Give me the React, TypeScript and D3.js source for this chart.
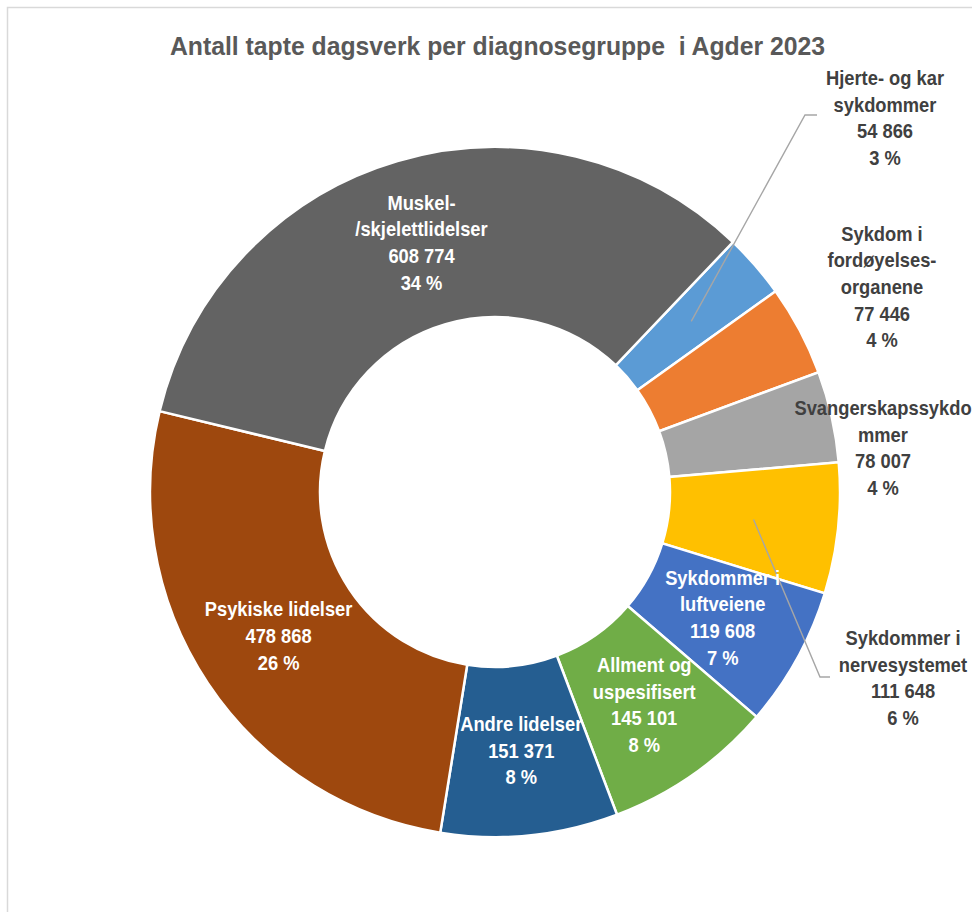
import React from "react";
import * as d3 from "d3";

const categories = [
  "Hjerte- og kar sykdommer",
  "Sykdom i fordøyelsesorganene",
  "Svangerskapssykdommer",
  "Sykdommer i nervesystemet",
  "Sykdommer i luftveiene",
  "Allment og uspesifisert",
  "Andre lidelser",
  "Psykiske lidelser",
  "Muskel-/skjelettlidelser",
];
const labelLines = [
  ["Hjerte- og kar", "sykdommer"],
  ["Sykdom i", "fordøyelses-", "organene"],
  ["Svangerskapssykdo", "mmer"],
  ["Sykdommer i", "nervesystemet"],
  ["Sykdommer i", "luftveiene"],
  ["Allment og", "uspesifisert"],
  ["Andre lidelser"],
  ["Psykiske lidelser"],
  ["Muskel-", "/skjelettlidelser"],
];
const values = [54866, 77446, 78007, 111648, 119608, 145101, 151371, 478868, 608774];
const percentLabels = ["3 %", "4 %", "4 %", "6 %", "7 %", "8 %", "8 %", "26 %", "34 %"];
const colors = ["#5B9BD5", "#ED7D31", "#A5A5A5", "#FFC000", "#4472C4", "#70AD47", "#255E91", "#9E480E", "#636363"];
const title = "Antall tapte dagsverk per diagnosegruppe  i Agder 2023";

// layout for labels placed outside the ring (index -> box centre, optional leader elbow)
const outsideLabels: Record<number, { x: number; y: number; elbow?: [number, number]; end?: number }> = {
  0: { x: 885, y: 118, elbow: [805, 115], end: 817 },
  1: { x: 882, y: 287 },
  2: { x: 883, y: 448 },
  3: { x: 903, y: 678, elbow: [820, 677], end: 830 },
};

const W = 972;
const H = 912;
const cx = 495;
const cy = 492;
const outerR = 345;
const innerR = 175;
const lineH = 26.7;
const FONT = "'Liberation Sans', Arial, sans-serif";

const fmt = (v: number) => d3.format(",")(v).replace(/,/g, " ");

export default function App() {
  const startDeg = 43.6;
  const pie = d3
    .pie<number>()
    .sort(null)
    .value((d) => d)
    .startAngle((startDeg * Math.PI) / 180)
    .endAngle(((startDeg + 360) * Math.PI) / 180);
  const arcs = pie(values);
  const arcGen = d3.arc<d3.PieArcDatum<number>>().innerRadius(innerR).outerRadius(outerR);

  return (
    <svg width={W} height={H} style={{ position: "absolute", left: 0, top: 0, background: "#fff" }}>
      <rect x={7.5} y={7.5} width={1100} height={1100} fill="#fff" stroke="#D9D9D9" strokeWidth={1.5} />
      <text
        x={497.5}
        y={55}
        textAnchor="middle"
        fontFamily={FONT}
        fontWeight="bold"
        fontSize={25}
        fill="#595959"
        textLength={655}
        lengthAdjust="spacingAndGlyphs"
        style={{ whiteSpace: "pre" }}
      >
        {title}
      </text>
      <g transform={`translate(${cx},${cy})`}>
        {arcs.map((a, i) => (
          <path key={categories[i]} d={arcGen(a) || ""} fill={colors[i]} stroke="#fff" strokeWidth={2.5} />
        ))}
      </g>
      {arcs.map((a, i) => {
        const [px, py] = arcGen.centroid(a);
        const ox = outsideLabels[i];
        const lines = [...labelLines[i], fmt(values[i]), percentLabels[i]];
        const bx = ox ? ox.x : cx + px;
        const by = ox ? ox.y : cy + py;
        const fill = ox ? "#404040" : "#FFFFFF";
        return (
          <g key={"l" + i}>
            {ox && ox.elbow ? (
              <polyline
                points={`${cx + px},${cy + py} ${ox.elbow[0]},${ox.elbow[1]} ${ox.end},${ox.elbow[1]}`}
                fill="none"
                stroke="#A6A6A6"
                strokeWidth={1.4}
              />
            ) : null}
            {lines.map((t, k) => (
              <text
                key={k}
                transform={`translate(${bx},${by + (k - (lines.length - 1) / 2) * lineH}) scale(0.94,1)`}
                dy="0.36em"
                textAnchor="middle"
                fontFamily={FONT}
                fontWeight="bold"
                fontSize={19.5}
                fill={fill}
              >
                {t}
              </text>
            ))}
          </g>
        );
      })}
    </svg>
  );
}
